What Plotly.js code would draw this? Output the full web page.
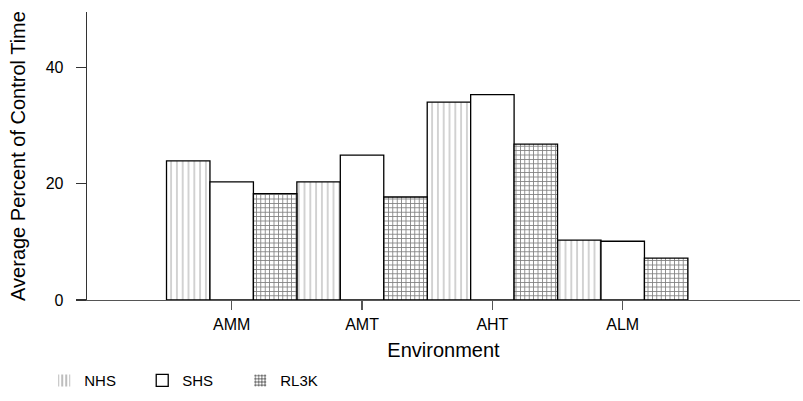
<!DOCTYPE html>
<html><head><meta charset="utf-8">
<script src="https://cdn.plot.ly/plotly-3.0.1.min.js"></script>
<style>body{margin:0;padding:0;background:#fff}#c{width:803px;height:401px}</style>
</head><body><div id="c"></div>
<script>
const categories = ["AMM", "AMT", "AHT", "ALM"];
const nhs = [23.9, 20.3, 34.0, 10.3];
const shs = [20.3, 24.9, 35.3, 10.1];
const rl3k = [18.3, 17.7, 26.8, 7.2];
const seriesNames = ["NHS", "SHS", "RL3K"];

const font = {family: "Liberation Sans, Arial, sans-serif", color: "#000"};
const nhsPattern = {shape: "|", size: 5.8, solidity: 0.15, fgcolor: "#333", bgcolor: "#fff", fillmode: "overlay"};
const rlPattern = {shape: "+", size: 4.4, solidity: 0.35, fgcolor: "#000", bgcolor: "#fff", fillmode: "overlay"};
const outline = {color: "#000", width: 1.3};

const traces = [
  {x: categories, y: nhs, name: seriesNames[0], type: "bar", showlegend: false,
   marker: {color: "#fff", line: outline, pattern: nhsPattern}},
  {x: categories, y: shs, name: seriesNames[1], type: "bar", showlegend: false,
   marker: {color: "#fff", line: outline}},
  {x: categories, y: rl3k, name: seriesNames[2], type: "bar", showlegend: false,
   marker: {color: "#fff", line: outline, pattern: rlPattern}},
  // legend-only entries on a hidden overlay axis
  {x: [null], y: [null], name: seriesNames[0], type: "bar", xaxis: "x2", yaxis: "y2",
   marker: {color: "#fff", line: {width: 0}, pattern: {shape: "|", size: 5, solidity: 0.15, fgcolor: "#222", bgcolor: "#fff"}}},
  {x: [null], y: [null], name: seriesNames[1], type: "bar", xaxis: "x2", yaxis: "y2",
   marker: {color: "#fff", line: {color: "#000", width: 1.3}}},
  {x: [null], y: [null], name: seriesNames[2], type: "bar", xaxis: "x2", yaxis: "y2",
   marker: {color: "#fff", line: {width: 0}, pattern: {shape: "+", size: 4, solidity: 0.3, fgcolor: "#000", bgcolor: "#fff"}}}
];
const layout = {
  width: 803, height: 401,
  margin: {l: 87, r: 3, t: 12, b: 101},
  paper_bgcolor: "#fff", plot_bgcolor: "#fff",
  font: Object.assign({size: 16}, font),
  barmode: "group", bargap: 0, bargroupgap: 0,
  showlegend: true,
  legend: {orientation: "h", x: -0.06, xanchor: "left", y: -0.28, yanchor: "middle",
           font: Object.assign({size: 15}, font), tracegroupgap: 0,
           entrywidth: 53, entrywidthmode: "pixels"},
  xaxis: {type: "category", range: [-1.11, 4.36], showgrid: false, zeroline: false,
          showline: true, linecolor: "#555", linewidth: 1.3,
          ticks: "outside", ticklen: 9, tickcolor: "#555", tickwidth: 1.3,
          tickfont: Object.assign({size: 16}, font),
          title: {text: "Environment", font: Object.assign({size: 20}, font), standoff: 11}},
  yaxis: {range: [0, 49.5], tickvals: [0, 20, 40], showgrid: false, zeroline: false,
          showline: true, linecolor: "#333", linewidth: 1.3,
          ticks: "outside", ticklen: 10, tickcolor: "#333", tickwidth: 1.3,
          ticklabelstandoff: 9,
          tickfont: Object.assign({size: 16}, font),
          title: {text: "Average Percent of Control Time", font: Object.assign({size: 20}, font), standoff: 14}},
  xaxis2: {overlaying: "x", visible: false, range: [0, 1]},
  yaxis2: {overlaying: "y", visible: false, range: [0, 1]}
};
Plotly.newPlot("c", traces, layout, {displayModeBar: false, staticPlot: true});
</script></body></html>
